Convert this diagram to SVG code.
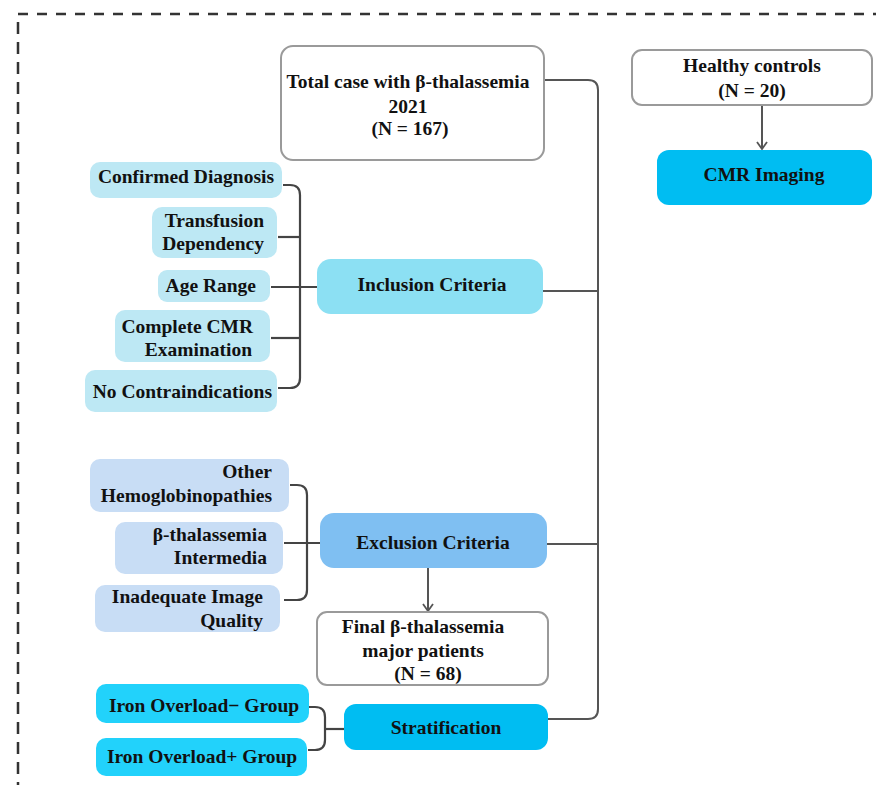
<svg xmlns="http://www.w3.org/2000/svg" width="876" height="785" viewBox="0 0 876 785">
<defs>
<style>
text{font-family:"Liberation Serif","Times New Roman",serif;font-weight:bold;font-size:19.5px;fill:#111;}
.c{text-anchor:middle;}
.e{text-anchor:end;}
.wbox{fill:#fff;stroke:#9a9a9a;stroke-width:2;}
.inleaf{fill:#bde8f4;}
.exleaf{fill:#c8ddf5;}
.iron{fill:#22d2fb;}
.deep{fill:#00bdf2;}
.conn{fill:none;stroke:#555;stroke-width:2;}
.br{fill:none;stroke:#444;stroke-width:2.2;}
.dash{fill:none;stroke:#333;stroke-width:2.5;}
</style>
<marker id="arr" viewBox="0 0 10 12" refX="9" refY="6" markerWidth="10" markerHeight="12" markerUnits="userSpaceOnUse" orient="auto">
<path d="M2,1 L9,6 L2,11" fill="none" stroke="#555" stroke-width="1.8"/>
</marker>
</defs>
<rect width="876" height="785" fill="#fff"/>
<g id="frame">
<line class="dash" x1="18" y1="14" x2="876" y2="14" stroke-dasharray="10,9"/>
<line class="dash" x1="18" y1="22" x2="18" y2="785" stroke-dasharray="12,8"/>
</g>
<g id="connectors">
<path class="conn" d="M537,80 H588 Q598,80 598,90 V709 Q598,719 588,719 H548"/>
<line class="conn" x1="543" y1="291" x2="598" y2="291"/>
<line class="conn" x1="547" y1="544" x2="598" y2="544"/>
<line class="conn" x1="762" y1="105" x2="762" y2="149" marker-end="url(#arr)"/>
<line class="conn" x1="428" y1="568" x2="428" y2="611" marker-end="url(#arr)"/>
<path class="br" d="M283,185 H290 Q300,185 300,195 V378 Q300,388 290,388 H278"/>
<line class="br" x1="278" y1="237" x2="300" y2="237"/>
<line class="br" x1="271" y1="287" x2="317" y2="287"/>
<line class="br" x1="271" y1="338" x2="300" y2="338"/>
<path class="br" d="M290,485 H297 Q307,485 307,495 V590 Q307,600 297,600 H284"/>
<line class="br" x1="284" y1="543" x2="320" y2="543"/>
<path class="br" d="M309,707 H315 Q325,707 325,717 V740 Q325,750 315,750 H308"/>
<line class="br" x1="325" y1="729" x2="344" y2="729"/>
</g>
<g id="total">
<rect class="wbox" x="281" y="46" width="263" height="114" rx="12"/>
<text class="c" x="408" y="88">Total case with β-thalassemia</text>
<text class="c" x="408" y="113">2021</text>
<text class="c" x="410" y="135">(N = 167)</text>
</g>
<g id="healthy">
<rect class="wbox" x="632" y="50" width="240" height="55" rx="10"/>
<text class="c" x="752" y="72">Healthy controls</text>
<text class="c" x="752" y="97">(N = 20)</text>
</g>
<g id="cmr">
<rect class="deep" x="657" y="150" width="215" height="55" rx="12"/>
<text class="c" x="764" y="181">CMR Imaging</text>
</g>
<g id="confirmed">
<rect class="inleaf" x="90" y="162" width="192" height="36" rx="10"/>
<text class="e" x="274" y="183">Confirmed Diagnosis</text>
</g>
<g id="transfusion">
<rect class="inleaf" x="152" y="207" width="125" height="51" rx="10"/>
<text class="e" x="264" y="227">Transfusion</text>
<text class="e" x="264" y="250">Dependency</text>
</g>
<g id="age">
<rect class="inleaf" x="158" y="270" width="112" height="32" rx="9"/>
<text class="e" x="256" y="292">Age Range</text>
</g>
<g id="complete">
<rect class="inleaf" x="115" y="310" width="155" height="52" rx="10"/>
<text class="e" x="253" y="333">Complete CMR</text>
<text class="e" x="252" y="356">Examination</text>
</g>
<g id="nocontra">
<rect class="inleaf" x="85" y="370" width="192" height="42" rx="10"/>
<text class="e" x="272" y="398">No Contraindications</text>
</g>
<g id="inclusion">
<rect x="317" y="259" width="226" height="55" rx="14" fill="#8ce0f3"/>
<text class="c" x="432" y="291">Inclusion Criteria</text>
</g>
<g id="other">
<rect class="exleaf" x="90" y="459" width="199" height="53" rx="10"/>
<text class="e" x="272" y="478">Other</text>
<text class="e" x="272" y="502">Hemoglobinopathies</text>
</g>
<g id="intermedia">
<rect class="exleaf" x="115" y="522" width="168" height="52" rx="10"/>
<text class="e" x="267" y="541">β-thalassemia</text>
<text class="e" x="267" y="564">Intermedia</text>
</g>
<g id="inadequate">
<rect class="exleaf" x="95" y="585" width="185" height="47" rx="10"/>
<text class="e" x="263" y="603">Inadequate Image</text>
<text class="e" x="263" y="627">Quality</text>
</g>
<g id="exclusion">
<rect x="320" y="513" width="227" height="55" rx="14" fill="#7fbff2"/>
<text class="c" x="433" y="549">Exclusion Criteria</text>
</g>
<g id="final">
<rect class="wbox" x="317" y="612" width="231" height="73" rx="10"/>
<text class="c" x="423" y="633">Final β-thalassemia</text>
<text class="c" x="423" y="657">major patients</text>
<text class="c" x="428" y="680">(N = 68)</text>
</g>
<g id="ironminus">
<rect class="iron" x="96" y="684" width="213" height="39" rx="10"/>
<text class="c" x="204" y="712">Iron Overload− Group</text>
</g>
<g id="ironplus">
<rect class="iron" x="96" y="738" width="211" height="38" rx="10"/>
<text class="c" x="202" y="763">Iron Overload+ Group</text>
</g>
<g id="stratification">
<rect class="deep" x="344" y="704" width="204" height="46" rx="12"/>
<text class="c" x="446" y="734">Stratification</text>
</g>
</svg>
